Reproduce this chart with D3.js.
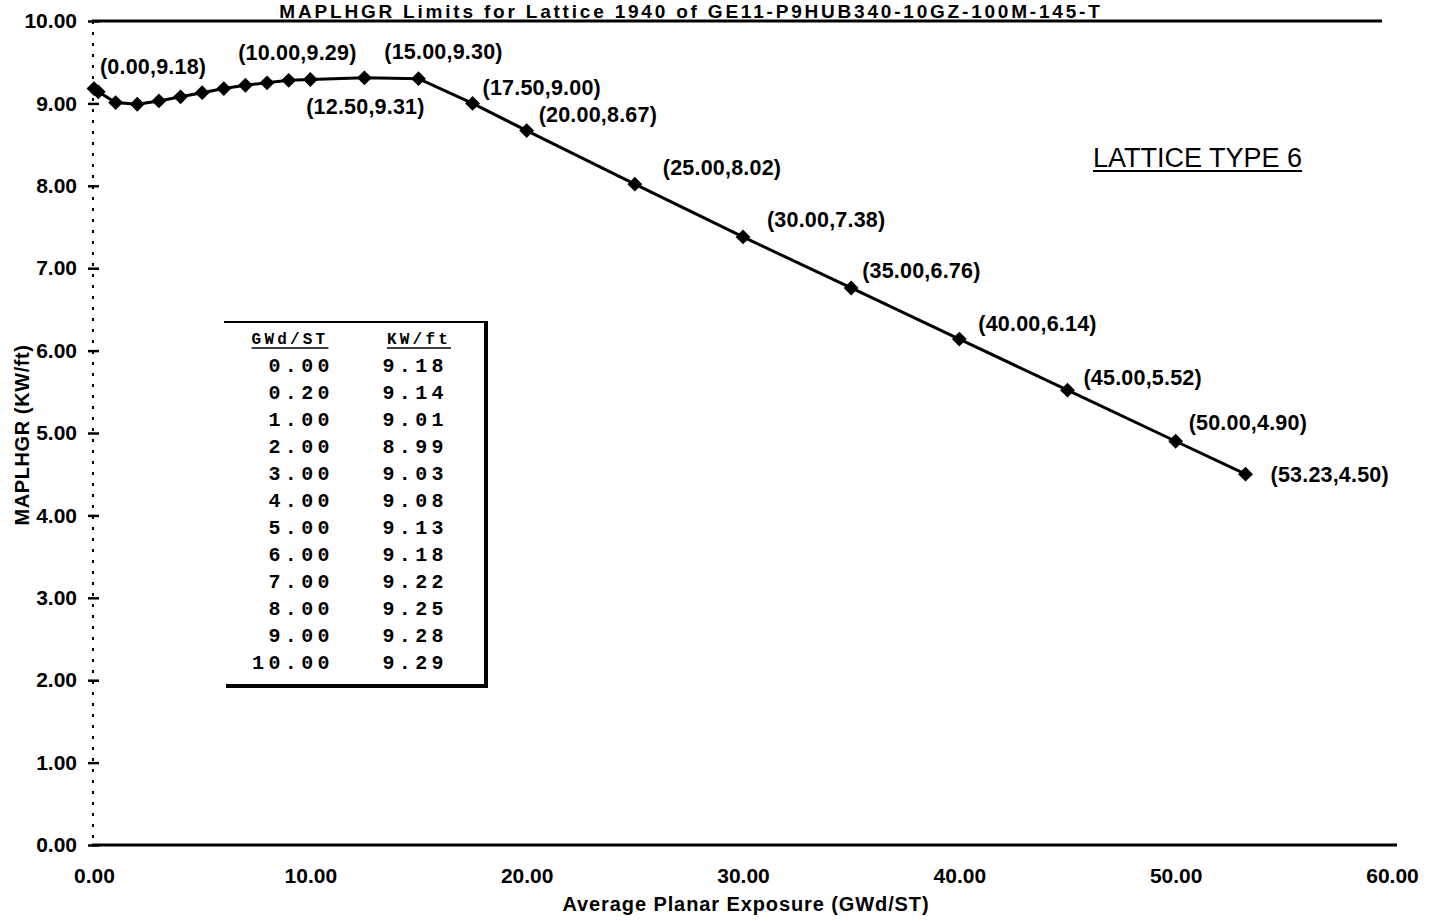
<!DOCTYPE html>
<html>
<head>
<meta charset="utf-8">
<script src="https://cdn.jsdelivr.net/npm/d3@7/dist/d3.min.js"></script>
<style>
  html, body { margin: 0; padding: 0; background: #fff; }
  svg { display: block; }
  text { font-family: "Liberation Sans", Arial, sans-serif; fill: #000; }
</style>
</head>
<body>
<svg id="chart" width="1442" height="921"></svg>
<script>
// ---------- data ----------
const titleText = "MAPLHGR Limits for Lattice 1940 of GE11-P9HUB340-10GZ-100M-145-T";
const xTitle = "Average Planar Exposure (GWd/ST)";
const yTitle = "MAPLHGR (KW/ft)";
const latticeLabel = "LATTICE TYPE 6";

const exposure = [0, 0.2, 1, 2, 3, 4, 5, 6, 7, 8, 9, 10, 12.5, 15, 17.5, 20, 25, 30, 35, 40, 45, 50, 53.23];
const maplhgr  = [9.18, 9.14, 9.01, 8.99, 9.03, 9.08, 9.13, 9.18, 9.22, 9.25, 9.28, 9.29, 9.31, 9.30, 9.00, 8.67, 8.02, 7.38, 6.76, 6.14, 5.52, 4.90, 4.50];

const labeledExposure = [0, 10, 12.5, 15, 17.5, 20, 25, 30, 35, 40, 45, 50, 53.23];

const xTicks = [0, 10, 20, 30, 40, 50, 60];
const yTicks = [0, 1, 2, 3, 4, 5, 6, 7, 8, 9, 10];

const tableHeaders = ["GWd/ST", "KW/ft"];
const tableGwd = [0.00, 0.20, 1.00, 2.00, 3.00, 4.00, 5.00, 6.00, 7.00, 8.00, 9.00, 10.00];
const tableKw  = [9.18, 9.14, 9.01, 8.99, 9.03, 9.08, 9.13, 9.18, 9.22, 9.25, 9.28, 9.29];

// ---------- label placement (style, not data) ----------
const labelOffsets = {
  "0":     {dx: 6,   dy: -22, anchor: "start"},
  "10":    {dx: -13, dy: -27, anchor: "middle"},
  "12.5":  {dx: 1,   dy: 29,  anchor: "middle"},
  "15":    {dx: 25,  dy: -27, anchor: "middle"},
  "17.5":  {dx: 10,  dy: -16, anchor: "start"},
  "20":    {dx: 12,  dy: -16, anchor: "start"},
  "25":    {dx: 28,  dy: -17, anchor: "start"},
  "30":    {dx: 24,  dy: -17, anchor: "start"},
  "35":    {dx: 11,  dy: -18, anchor: "start"},
  "40":    {dx: 19,  dy: -16, anchor: "start"},
  "45":    {dx: 16,  dy: -13, anchor: "start"},
  "50":    {dx: 13,  dy: -19, anchor: "start"},
  "53.23": {dx: 25,  dy: 0,   anchor: "start"}
};

// ---------- setup ----------
const svg = d3.select("#chart");
const x = d3.scaleLinear().domain([0, 60]).range([94, 1392]);
const y = d3.scaleLinear().domain([0, 10]).range([845, 21]);
const f2 = d3.format(".2f");

// title
svg.append("text")
  .attr("x", 691).attr("y", 18)
  .attr("text-anchor", "middle")
  .style("font-size", "19px").style("font-weight", "bold")
  .style("letter-spacing", "2.8px")
  .text(titleText);

// top frame line
svg.append("line")
  .attr("x1", x(0) - 2).attr("x2", x(60) - 10)
  .attr("y1", y(10)).attr("y2", y(10))
  .attr("stroke", "#000").attr("stroke-width", 3);

// bottom axis line
svg.append("line")
  .attr("x1", x(0) - 2).attr("x2", x(60) + 5)
  .attr("y1", y(0)).attr("y2", y(0))
  .attr("stroke", "#000").attr("stroke-width", 3);

// dotted left axis
svg.append("line")
  .attr("x1", x(0) - 1).attr("x2", x(0) - 1)
  .attr("y1", y(10)).attr("y2", y(0))
  .attr("stroke", "#000").attr("stroke-width", 2)
  .attr("stroke-dasharray", "3 8");

// y axis
const yAxis = svg.append("g")
  .attr("transform", `translate(${x(0) - 1},0)`)
  .call(d3.axisLeft(y).tickValues(yTicks).tickFormat(f2).tickSize(0).tickPadding(16));
yAxis.select(".domain").remove();
yAxis.selectAll(".tick line")
  .attr("x1", -5).attr("x2", 6)
  .attr("stroke", "#000").attr("stroke-width", 2.5);
yAxis.selectAll(".tick text")
  .style("font-size", "21px").style("font-weight", "bold")
  .style("font-family", "'Liberation Sans', Arial, sans-serif");

// x axis
const xAxis = svg.append("g")
  .attr("transform", `translate(0,${y(0)})`)
  .call(d3.axisBottom(x).tickValues(xTicks).tickFormat(f2).tickSize(0).tickPadding(23));
xAxis.select(".domain").remove();
xAxis.selectAll(".tick text")
  .style("font-size", "21px").style("font-weight", "bold")
  .style("font-family", "'Liberation Sans', Arial, sans-serif");

// axis titles
svg.append("text")
  .attr("x", 746).attr("y", 911)
  .attr("text-anchor", "middle")
  .style("font-size", "20px").style("font-weight", "bold")
  .style("letter-spacing", "0.9px")
  .text(xTitle);

svg.append("text")
  .attr("transform", "translate(29,435) rotate(-90)")
  .attr("text-anchor", "middle")
  .style("font-size", "20px").style("font-weight", "bold")
  .style("letter-spacing", "0.6px")
  .text(yTitle);

// series
const pts = exposure.map((e, i) => ({x: e, y: maplhgr[i]}));
svg.append("path")
  .datum(pts)
  .attr("fill", "none").attr("stroke", "#000").attr("stroke-width", 3)
  .attr("d", d3.line().x(d => x(d.x)).y(d => y(d.y)));

svg.selectAll(".marker")
  .data(pts)
  .enter().append("path")
  .attr("class", "marker")
  .attr("d", d3.symbol().type(d3.symbolSquare).size(110))
  .attr("transform", d => `translate(${x(d.x)},${y(d.y)}) rotate(45)`)
  .attr("fill", "#000");

// point labels
const labeled = pts.filter(p => labeledExposure.includes(p.x));
svg.selectAll(".plabel")
  .data(labeled)
  .enter().append("text")
  .attr("class", "plabel")
  .attr("x", d => x(d.x) + labelOffsets[String(d.x)].dx)
  .attr("y", d => y(d.y) + labelOffsets[String(d.x)].dy)
  .attr("dy", "0.35em")
  .attr("text-anchor", d => labelOffsets[String(d.x)].anchor)
  .style("font-size", "21.5px").style("font-weight", "bold")
  .style("letter-spacing", "0.2px")
  .text(d => `(${f2(d.x)},${f2(d.y)})`);

// lattice label
const lat = svg.append("text")
  .attr("x", 1093).attr("y", 158)
  .attr("dy", "0.35em")
  .style("font-size", "27px")
  .text(latticeLabel);
const latW = lat.node().getComputedTextLength();
svg.append("line")
  .attr("x1", 1093).attr("x2", 1093 + latW)
  .attr("y1", 171).attr("y2", 171)
  .attr("stroke", "#000").attr("stroke-width", 2);

// table
const tbl = {left: 228, right: 486, top: 322, bottom: 686, col1: 334, col2: 448, headY: 338};
const row = d3.scaleLinear().domain([0, 1]).range([365, 392]);
const tg = svg.append("g");
tg.append("line").attr("x1", tbl.left - 4).attr("x2", tbl.right).attr("y1", tbl.top).attr("y2", tbl.top)
  .attr("stroke", "#000").attr("stroke-width", 2);
tg.append("line").attr("x1", tbl.right).attr("x2", tbl.right).attr("y1", tbl.top - 1).attr("y2", tbl.bottom + 2)
  .attr("stroke", "#000").attr("stroke-width", 4);
tg.append("line").attr("x1", tbl.left - 2).attr("x2", tbl.right + 2).attr("y1", tbl.bottom).attr("y2", tbl.bottom)
  .attr("stroke", "#000").attr("stroke-width", 4);

const monoFont = "'Liberation Mono', 'DejaVu Sans Mono', monospace";
const headCenters = [290, 419];
tableHeaders.forEach((h, i) => {
  const t = tg.append("text")
    .attr("x", headCenters[i]).attr("y", tbl.headY).attr("dy", "0.35em")
    .attr("text-anchor", "middle")
    .style("font-family", monoFont).style("font-size", "16px").style("font-weight", "bold")
    .style("letter-spacing", "3.2px")
    .text(h);
  const w = t.node().getComputedTextLength();
  tg.append("line")
    .attr("x1", headCenters[i] - w / 2).attr("x2", headCenters[i] + w / 2)
    .attr("y1", tbl.headY + 10).attr("y2", tbl.headY + 10)
    .attr("stroke", "#000").attr("stroke-width", 1.5);
});

tableGwd.forEach((g, i) => {
  tg.append("text")
    .attr("x", tbl.col1).attr("y", row(i)).attr("dy", "0.35em")
    .attr("text-anchor", "end")
    .style("font-family", monoFont).style("font-size", "20px").style("font-weight", "bold")
    .style("letter-spacing", "4.4px")
    .text(f2(g));
  tg.append("text")
    .attr("x", tbl.col2).attr("y", row(i)).attr("dy", "0.35em")
    .attr("text-anchor", "end")
    .style("font-family", monoFont).style("font-size", "20px").style("font-weight", "bold")
    .style("letter-spacing", "4.4px")
    .text(f2(tableKw[i]));
});
</script>
</body>
</html>
